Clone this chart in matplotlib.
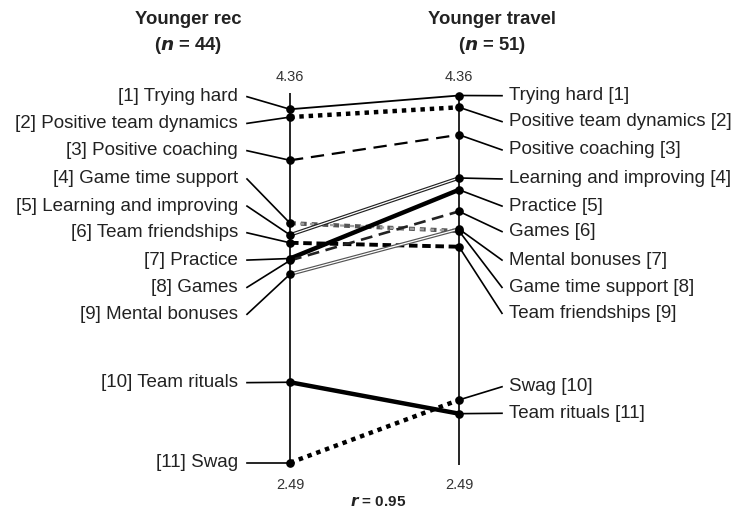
import matplotlib
matplotlib.use("Agg")
import matplotlib.pyplot as plt

plt.rcParams['font.family'] = ['Liberation Sans', 'DejaVu Sans']

# ---------------- data ----------------
items = ["Trying hard", "Positive team dynamics", "Positive coaching",
         "Game time support", "Learning and improving", "Team friendships",
         "Practice", "Games", "Mental bonuses", "Team rituals", "Swag"]
rec_values = [4.29, 4.25, 4.03, 3.71, 3.65, 3.61, 3.53, 3.52, 3.45, 2.90, 2.49]
travel_values = [4.36, 4.30, 4.16, 3.67, 3.94, 3.59, 3.88, 3.77, 3.68, 2.74, 2.81]
rec_rank = [1, 2, 3, 4, 5, 6, 7, 8, 9, 10, 11]
travel_rank = [1, 2, 3, 8, 4, 9, 5, 6, 7, 11, 10]
group_titles = ["Younger rec", "Younger travel"]
group_n = [44, 51]
axis_max_label = "4.36"
axis_min_label = "2.49"
r_value = 0.95

# ---------------- layout (label positions in value units) ----------------
left_label_y = [4.354, 4.218, 4.079, 3.935, 3.797, 3.661, 3.522, 3.383, 3.246, 2.898, 2.49]
right_label_y = [4.359, 4.227, 4.083, 3.935, 3.797, 3.667, 3.522, 3.383, 3.251, 2.877, 2.742]

styles = {
    "Trying hard": [dict(color='k', lw=1.3, ls='-')],
    "Positive team dynamics": [dict(color='k', lw=3.2, ls=(0, (1, 1.1)))],
    "Positive coaching": [dict(color='k', lw=1.6, ls=(0, (6, 3.5)))],
    "Game time support": [dict(color='#555555', lw=3.0, ls=(0, (1.4, 1.2))),
                          dict(color='#a0a0a0', lw=1.6, ls=(0, (1.9, 2.6)))],
    "Learning and improving": [dict(color='#222222', lw=2.6, ls='-'),
                               dict(color='white', lw=0.9, ls='-')],
    "Team friendships": [dict(color='k', lw=2.8, ls=(0, (2.2, 1.2)))],
    "Practice": [dict(color='k', lw=3.2, ls='-')],
    "Games": [dict(color='#222222', lw=1.9, ls=(0, (4.5, 2.5)))],
    "Mental bonuses": [dict(color='#555555', lw=2.6, ls='-'),
                       dict(color='white', lw=0.9, ls='-')],
    "Team rituals": [dict(color='k', lw=3.2, ls='-')],
    "Swag": [dict(color='k', lw=3.2, ls=(0, (1, 1.1)))],
}

W, H, DPI = 734, 511, 100
fig = plt.figure(figsize=(W / DPI, H / DPI), dpi=DPI)
ax = fig.add_axes([0, 0, 1, 1])
# pixel mapping: x=0 -> 290px, x=1 -> 459px ; value 4.36 -> 95.5px, px per unit 196.4
pxu_x = 169.0
ax.set_xlim(-290 / pxu_x, (W - 290) / pxu_x)
pxu_y = 196.4
ax.set_ylim(4.36 - (H - 95.5) / pxu_y, 4.36 + 95.5 / pxu_y)
ax.axis('off')

# vertical axes
for xv in (0, 1):
    ax.plot([xv, xv], [2.479, 4.373], color='k', lw=1.2, zorder=2, solid_capstyle='butt')

# connecting lines
for name, rv, tv in zip(items, rec_values, travel_values):
    for st in styles[name]:
        ax.plot([0, 1], [rv, tv], color=st['color'], lw=st['lw'], linestyle=st['ls'],
                dash_capstyle='butt', solid_capstyle='butt', zorder=3)

# markers
ax.plot([0] * len(rec_values), rec_values, 'o', color='k', ms=5.2, zorder=5)
ax.plot([1] * len(travel_values), travel_values, 'o', color='k', ms=5.2, zorder=5)

# leader lines and labels
lead_l = (247 - 290) / pxu_x
text_l = (238 - 290) / pxu_x
lead_r = 1 + (502 - 459) / pxu_x
text_r = 1 + (509 - 459) / pxu_x
fs = 13.5
for i, (name, rv) in enumerate(zip(items, rec_values)):
    ly = left_label_y[i]
    ax.plot([lead_l, 0], [ly, rv], color='k', lw=1.2, zorder=2)
    ax.text(text_l, ly, f"[{rec_rank[i]}] {name}", ha='right', va='center',
            fontsize=fs, color='#222222')

order_r = sorted(range(len(items)), key=lambda k: travel_rank[k])
for j, k in enumerate(order_r):
    ly = right_label_y[j]
    ax.plot([1, lead_r], [travel_values[k], ly], color='k', lw=1.2, zorder=2)
    ax.text(text_r, ly, f"{items[k]} [{travel_rank[k]}]", ha='left', va='center',
            fontsize=fs, color='#222222')

# axis end labels
for xv in (0, 1):
    ax.text(xv, 4.36 + (95.5 - 77) / pxu_y, axis_max_label, ha='center', va='center',
            fontsize=10.5, color='#333333')
    ax.text(xv, 4.36 - (485 - 95.5) / pxu_y, axis_min_label, ha='center', va='center',
            fontsize=10.5, color='#333333')

# r value
ax.text(0.5 + (378 - 374.5) / pxu_x, 4.36 - (502 - 95.5) / pxu_y,
        f"$\\boldsymbol{{r}}$ = {r_value:.2f}", ha='center', va='center',
        fontsize=11, fontweight='bold', color='#222222')

# titles
title_x = [188 / W, 492 / W]
for tx, t, n in zip(title_x, group_titles, group_n):
    fig.text(tx, 1 - 20 / H, t, ha='center', va='center', fontsize=13.3,
             fontweight='bold', color='#222222')
    fig.text(tx, 1 - 45 / H, f"($\\boldsymbol{{n}}$ = {n})", ha='center', va='center',
             fontsize=13.3, fontweight='bold', color='#222222')

fig.savefig("out.png", dpi=DPI)
